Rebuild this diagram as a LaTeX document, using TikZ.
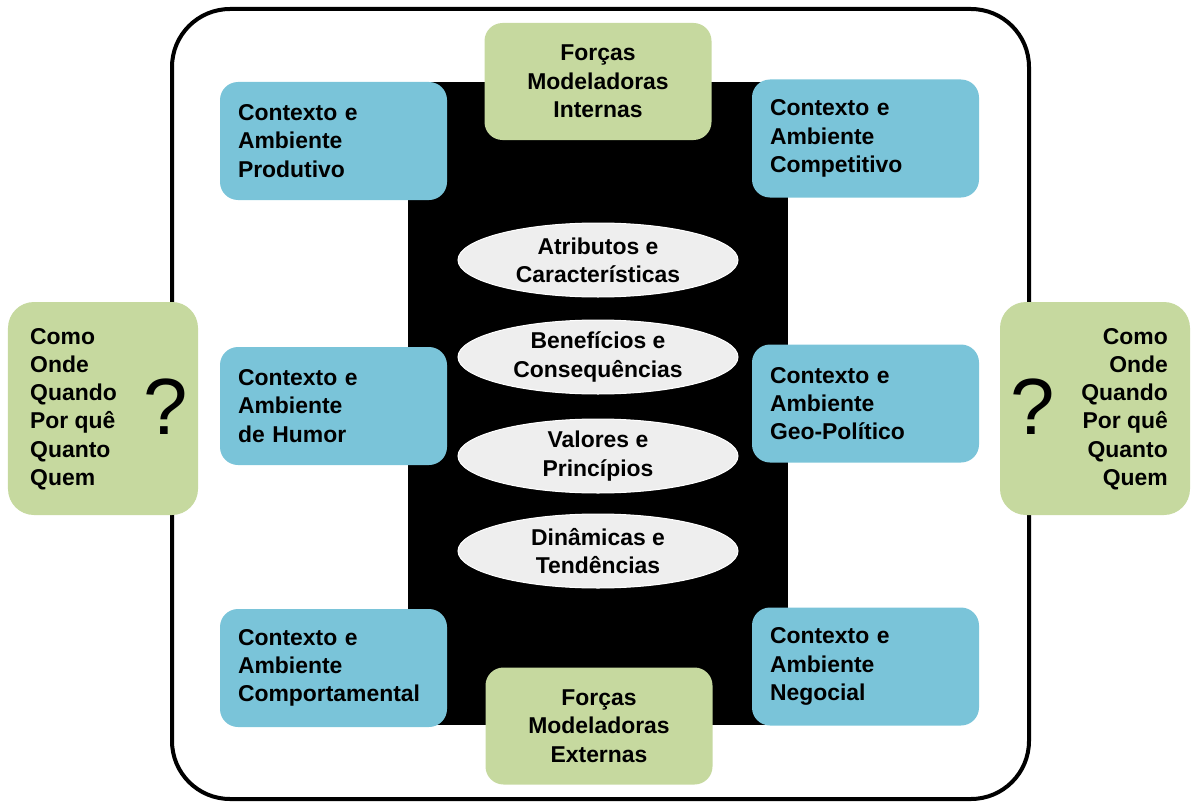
\documentclass[tikz,border=0pt]{standalone}
\usepackage{fontspec}
\setmainfont{Liberation Sans}
\usetikzlibrary{shapes.geometric}
\definecolor{boxblue}{HTML}{7AC4D9}
\definecolor{boxgreen}{HTML}{C6D99F}
\definecolor{ovalgray}{HTML}{EEEEEE}
\tikzset{
  lbl/.style={font=\fontsize{23}{28.4}\selectfont\bfseries},
  ctxbox/.style={lbl, fill=boxblue, rounded corners=18bp, minimum width=227bp,
    minimum height=118bp, text width=191bp, align=left, inner xsep=18bp},
  forcebox/.style={lbl, fill=boxgreen, rounded corners=18bp, minimum width=227bp,
    minimum height=117bp, align=center},
  sidebox/.style={fill=boxgreen, rounded corners=26bp, minimum width=190bp,
    minimum height=213bp},
  oval/.style={lbl, ellipse, fill=ovalgray, draw=white, line width=1bp,
    minimum width=280bp, minimum height=74bp, inner sep=0pt, align=center},
  qmark/.style={font=\fontsize{80}{80}\selectfont},
  qlist/.style={lbl, inner sep=0pt}
}
\begin{document}
\begin{tikzpicture}[x=1bp,y=-1bp]
\useasboundingbox (0,0) rectangle (1193,804);
% outer frame
\draw[line width=4bp, rounded corners=58bp] (172,9) rectangle (1029,799);
% central black panel
\fill[black] (408,82) rectangle (788,725);
% forces
\node[forcebox] (fint) at (598,81.5) {Forças\\Modeladoras\\Internas};
\node[forcebox] (fext) at (599,726) {Forças\\Modeladoras\\Externas};
% context boxes
\node[ctxbox] (cprod) at (333.5,141) {Contexto e\\Ambiente\\Produtivo};
\node[ctxbox] (ccomp) at (865.5,138.5) {Contexto e\\Ambiente\\Competitivo};
\node[ctxbox] (chum) at (333.5,406) {Contexto e\\Ambiente\\de Humor};
\node[ctxbox] (cgeo) at (865.5,403.5) {Contexto e\\Ambiente\\Geo-Político};
\node[ctxbox] (ccpt) at (333.5,668) {Contexto e\\Ambiente\\Comportamental};
\node[ctxbox] (cneg) at (865.5,666.5) {Contexto e\\Ambiente\\Negocial};
% ovals
\node[oval] (o1) at (598,260) {Atributos e\\Características};
\node[oval] (o2) at (598,357) {Benefícios e\\Consequências};
\node[oval] (o3) at (598,456) {Valores e\\Princípios};
\node[oval] (o4) at (598,551) {Dinâmicas e\\Tendências};
% side question boxes
\node[sidebox] (sl) at (103,408.5) {};
\node[qlist, anchor=west, align=left] (sltxt) at (30,409)
  {Como\\Onde\\Quando\\Por quê\\Quanto\\Quem};
\node[qmark] (slq) at (166,407) {?};
\node[sidebox] (sr) at (1095,408.5) {};
\node[qlist, anchor=east, align=right] (srtxt) at (1168,409)
  {Como\\Onde\\Quando\\Por quê\\Quanto\\Quem};
\node[qmark] (srq) at (1033,407) {?};
\end{tikzpicture}
\end{document}
